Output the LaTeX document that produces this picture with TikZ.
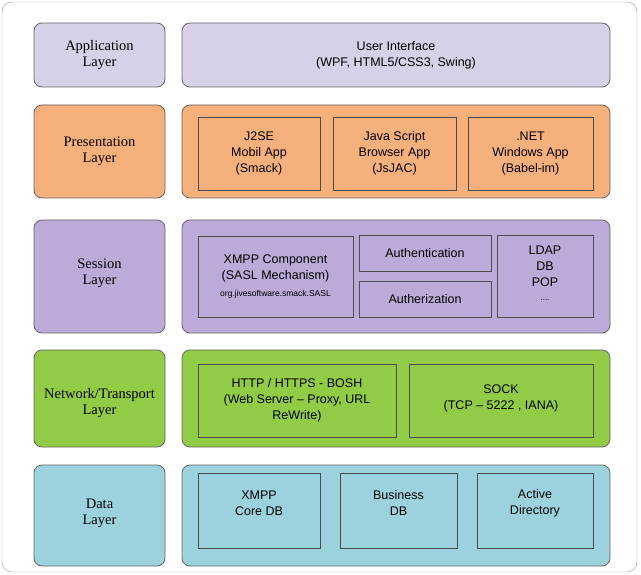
\documentclass[tikz,border=0pt]{standalone}
\usepackage{fontspec}
\setmainfont{Liberation Sans}
\newfontfamily\serifl{Liberation Serif}
\definecolor{appc}{HTML}{D8D0E6}
\definecolor{presc}{HTML}{F5B07C}
\definecolor{sesc}{HTML}{BCAAD8}
\definecolor{netc}{HTML}{92CB45}
\definecolor{datc}{HTML}{9CD2DE}
\begin{document}
\begin{tikzpicture}[x=1pt,y=-1pt,
  layer/.style={draw=black!60,rounded corners=8pt,line width=0.8pt},
  inner/.style={draw=black!70,line width=0.7pt},
  ltxt/.style={font=\serifl\fontsize{14.5}{16}\selectfont,align=center},
  rtxt/.style={font=\fontsize{12.5}{16}\selectfont,align=center}]
\useasboundingbox (0,0) rectangle (641,575);
\draw[black!40,rounded corners=10pt] (2,2) rectangle (637,572);
% application
\draw[layer,fill=appc] (34,23) rectangle (165,87);
\node[ltxt] (la) at (99.5,55) {Application\\Layer};
\draw[layer,fill=appc] (182,23) rectangle (610,87);
\node[rtxt] (ui) at (396,55) {User Interface\\(WPF, HTML5/CSS3, Swing)};
% presentation
\draw[layer,fill=presc] (34,105) rectangle (165,198);
\node[ltxt] (lp) at (99.5,151) {Presentation\\Layer};
\draw[layer,fill=presc] (182,105) rectangle (610,198);
\draw[inner] (198,117) rectangle (320,190);
\node[rtxt] (p1) at (259,153) {J2SE\\Mobil App\\(Smack)};
\draw[inner] (333,117) rectangle (456,190);
\node[rtxt] (p2) at (394.5,153) {Java Script\\Browser App\\(JsJAC)};
\draw[inner] (468,117) rectangle (593,190);
\node[rtxt] (p3) at (530.5,153) {.NET\\Windows App\\(Babel-im)};
% session
\draw[layer,fill=sesc] (34,220) rectangle (165,333);
\node[ltxt] (ls) at (99.5,273) {Session\\Layer};
\draw[layer,fill=sesc] (182,220) rectangle (610,333);
\draw[inner] (198,236) rectangle (353,317);
\node[rtxt] (s1) at (275.5,268) {XMPP Component\\(SASL Mechanism)};
\node[font=\fontsize{8.5}{9}\selectfont] (s1b) at (275.5,294) {org.jivesoftware.smack.SASL};
\draw[inner] (359,235) rectangle (491,271);
\node[rtxt] (s2) at (425,253) {Authentication};
\draw[inner] (359,281) rectangle (491,317);
\node[rtxt] (s3) at (425,299) {Autherization};
\draw[inner] (497,235) rectangle (593,317);
\node[rtxt] (s4) at (545,266) {LDAP\\DB\\POP};
\node[font=\fontsize{8}{9}\selectfont] (s4b) at (545,300) {....};
% network
\draw[layer,fill=netc] (34,350) rectangle (165,447);
\node[ltxt] (ln) at (99.5,403) {Network/Transport\\Layer};
\draw[layer,fill=netc] (182,350) rectangle (610,447);
\draw[inner] (198,364) rectangle (396,437);
\node[rtxt] (n1) at (297,400) {HTTP / HTTPS - BOSH\\(Web Server -- Proxy, URL\\ReWrite)};
\draw[inner] (409,364) rectangle (593,437);
\node[rtxt] (n2) at (501,398) {SOCK\\(TCP -- 5222 , IANA)};
% data
\draw[layer,fill=datc] (34,465) rectangle (165,566);
\node[ltxt] (ld) at (99.5,513) {Data\\Layer};
\draw[layer,fill=datc] (182,465) rectangle (610,566);
\draw[inner] (198,473) rectangle (320,548);
\node[rtxt] (d1) at (259,503) {XMPP\\Core DB};
\draw[inner] (340,473) rectangle (457,548);
\node[rtxt] (d2) at (398.5,503) {Business\\DB};
\draw[inner] (477,473) rectangle (593,548);
\node[rtxt] (d3) at (535,503) {Active\\Directory};
\end{tikzpicture}
\end{document}
